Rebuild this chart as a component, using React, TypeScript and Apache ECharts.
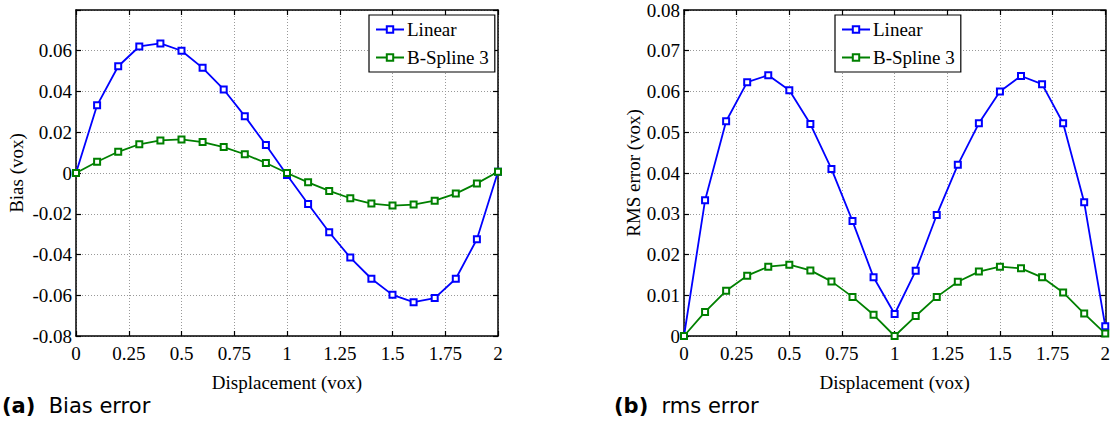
import React, { useEffect, useRef } from "react";
import * as echarts from "echarts";

const displacement = [0, 0.1, 0.2, 0.3, 0.4, 0.5, 0.6, 0.7, 0.8, 0.9, 1.0, 1.1, 1.2, 1.3, 1.4, 1.5, 1.6, 1.7, 1.8, 1.9, 2.0];
const biasLinear = [0, 0.0332, 0.0524, 0.0621, 0.0636, 0.06, 0.0516, 0.041, 0.0279, 0.0137, -0.001, -0.0152, -0.0291, -0.0415, -0.0519, -0.0598, -0.0634, -0.0614, -0.0519, -0.0325, 0.0006];
const biasSpline = [0, 0.0055, 0.0104, 0.0141, 0.016, 0.0165, 0.0152, 0.0127, 0.0092, 0.0049, 0, -0.0046, -0.0088, -0.0124, -0.015, -0.016, -0.0155, -0.0136, -0.0101, -0.0051, 0.0006];
const rmsLinear = [0, 0.0333, 0.0527, 0.0623, 0.064, 0.0603, 0.052, 0.041, 0.0282, 0.0144, 0.0054, 0.016, 0.0297, 0.042, 0.0522, 0.06, 0.0638, 0.0618, 0.0522, 0.0328, 0.0024];
const rmsSpline = [0, 0.0059, 0.0111, 0.0148, 0.017, 0.0175, 0.0161, 0.0134, 0.0096, 0.0052, 0, 0.0049, 0.0096, 0.0133, 0.0158, 0.017, 0.0166, 0.0144, 0.0107, 0.0055, 0.0006];
const seriesNames = ["Linear", "B-Spline 3"];
const xAxisName = "Displacement (vox)";
const yAxisNames = ["Bias (vox)", "RMS error (vox)"];
const captions = [["(a)", "Bias error"], ["(b)", "rms error"]];

const SERIF = "'Liberation Serif', 'DejaVu Serif', serif";
const SANS = "'DejaVu Sans', 'Noto Sans', sans-serif";
const BLUE = "#0000ff";
const GREEN = "#008000";
const FS = 19;

export default function App() {
  const ref = useRef<HTMLDivElement>(null);
  useEffect(() => {
    if (!ref.current) return;
    const chart = echarts.init(ref.current, null, { renderer: "svg" });
    const pairs = (ys: number[]) => displacement.map((x, i) => [x, ys[i]]);
    const grids = [
      { left: 76, top: 10, width: 422, height: 326 },
      { left: 684, top: 10, width: 427, height: 326 },
    ];
    const yFmt = (hideTop: boolean) => (v: number) => {
      if (hideTop && Math.abs(v - 0.08) < 1e-9) return "";
      if (Math.abs(v) < 1e-9) return "0";
      return v.toFixed(2);
    };
    const xAxes: any[] = [];
    const yAxes: any[] = [];
    [0, 1].forEach((g) => {
      xAxes.push({
        type: "value", gridIndex: g, min: 0, max: 2, interval: 0.25, position: "bottom",
        name: xAxisName, nameLocation: "middle", nameGap: 37,
        nameTextStyle: { fontFamily: SERIF, fontSize: FS, color: "#000" },
        axisLine: { show: true, onZero: false, lineStyle: { color: "#000", width: 1.5 } },
        axisTick: { show: true, inside: true, length: 5, lineStyle: { color: "#000", width: 1.2 } },
        axisLabel: { fontFamily: SERIF, fontSize: FS, color: "#000", margin: 8 },
        splitLine: { show: true, lineStyle: { color: "#999", type: [1, 2], width: 1 } },
      });
      xAxes.push({
        type: "value", gridIndex: g, min: 0, max: 2, interval: 0.25, position: "top",
        axisLine: { show: true, onZero: false, lineStyle: { color: "#000", width: 1.5 } },
        axisTick: { show: true, inside: true, length: 5, lineStyle: { color: "#000", width: 1.2 } },
        axisLabel: { show: false }, splitLine: { show: false },
      });
      const ymin = g === 0 ? -0.08 : 0;
      yAxes.push({
        type: "value", gridIndex: g, min: ymin, max: 0.08, interval: g === 0 ? 0.02 : 0.01, position: "left",
        name: yAxisNames[g], nameLocation: "middle", nameGap: g === 0 ? 50 : 40,
        nameTextStyle: { fontFamily: SERIF, fontSize: FS, color: "#000" },
        axisLine: { show: true, onZero: false, lineStyle: { color: "#000", width: 1.5 } },
        axisTick: { show: true, inside: true, length: 5, lineStyle: { color: "#000", width: 1.2 } },
        axisLabel: { fontFamily: SERIF, fontSize: FS, color: "#000", margin: 4, formatter: yFmt(g === 0) },
        splitLine: { show: true, lineStyle: { color: "#999", type: [1, 2], width: 1 } },
      });
      yAxes.push({
        type: "value", gridIndex: g, min: ymin, max: 0.08, interval: g === 0 ? 0.02 : 0.01, position: "right",
        axisLine: { show: true, onZero: false, lineStyle: { color: "#000", width: 1.5 } },
        axisTick: { show: true, inside: true, length: 5, lineStyle: { color: "#000", width: 1.2 } },
        axisLabel: { show: false }, splitLine: { show: false },
      });
    });
    const mk = (name: string, color: string, data: number[], g: number) => ({
      type: "line", name, xAxisIndex: g * 2, yAxisIndex: g * 2, data: pairs(data),
      symbol: "emptyRect", symbolSize: 6, color,
      lineStyle: { color, width: 1.8 },
      itemStyle: { color, borderColor: color, borderWidth: 1.6 },
      clip: false,
    });
    const legendCommon = {
      orient: "vertical", data: seriesNames, itemWidth: 28, itemHeight: 8, itemGap: 9,
      padding: [5, 6, 5, 6], backgroundColor: "#fff", borderColor: "#000", borderWidth: 1.2,
      textStyle: { fontFamily: SERIF, fontSize: FS, color: "#000", padding: [0, 0, 0, -2] }, selectedMode: false,
    };
    const caption = (i: number, x: number) => ({
      type: "text", left: x, top: 395,
      style: {
        text: `{b|${captions[i][0]}}  ${captions[i][1]}`,
        rich: {
          b: { fontFamily: SANS, fontSize: 21, fontWeight: "bold", fill: "#000" },
        },
        font: `21px ${SANS}`,
        fill: "#000",
      },
    });
    chart.setOption({
      animation: false,
      grid: grids,
      xAxis: xAxes,
      yAxis: yAxes,
      legend: [
        { ...legendCommon, left: 369, top: 15 },
        { ...legendCommon, left: 835, top: 15 },
      ],
      series: [
        mk(seriesNames[0], BLUE, biasLinear, 0),
        mk(seriesNames[1], GREEN, biasSpline, 0),
        mk(seriesNames[0], BLUE, rmsLinear, 1),
        mk(seriesNames[1], GREEN, rmsSpline, 1),
      ],
      graphic: [caption(0, 2), caption(1, 614)],
    });
    return () => chart.dispose();
  }, []);
  return <div ref={ref} style={{ position: "absolute", left: 0, top: 0, width: 1113, height: 433, background: "#fff" }} />;
}
